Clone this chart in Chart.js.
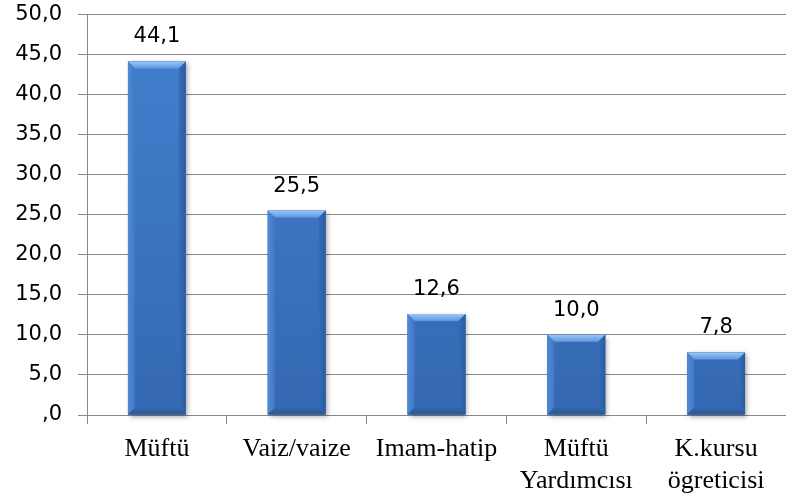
<!DOCTYPE html>
<html>
<head>
<meta charset="utf-8">
<script src="https://cdn.jsdelivr.net/npm/chart.js@4/dist/chart.umd.min.js"></script>
<style>
html,body{margin:0;padding:0;background:#fff;}
#wrap{width:786px;height:497px;position:relative;overflow:hidden;}
#c{position:absolute;left:0;top:-4px;}
</style>
</head>
<body>
<div id="wrap"><canvas id="c" width="786" height="501"></canvas></div>
<script>
const categories = [["Müftü"], ["Vaiz/vaize"], ["Imam-hatip"], ["Müftü", "Yardımcısı"], ["K.kursu", "ögreticisi"]];
const values = [44.1, 25.5, 12.6, 10.0, 7.8];
const yMin = 0, yMax = 50, yStep = 5;

function fmt(v){ return v === 0 ? ",0" : v.toFixed(1).replace(".", ","); }

const bevelPlugin = {
  id: 'bevel',
  afterDatasetsDraw(chart){
    const ctx = chart.ctx;
    const meta = chart.getDatasetMeta(0);
    meta.data.forEach((el, i) => {
      const p = el.getProps(['x','y','base','width'], true);
      const l = p.x - p.width/2, r = p.x + p.width/2, t = p.y, b = p.base;
      const bv = 7;
      ctx.save();
      ctx.beginPath();
      ctx.moveTo(l, t); ctx.lineTo(r, t); ctx.lineTo(r-bv, t+bv); ctx.lineTo(l+bv, t+bv); ctx.closePath();
      let g = ctx.createLinearGradient(0, t, 0, t+bv);
      g.addColorStop(0, '#9cc6f5'); g.addColorStop(1, '#5f97de');
      ctx.fillStyle = g; ctx.fill();
      ctx.beginPath();
      ctx.moveTo(l, t); ctx.lineTo(l+bv, t+bv); ctx.lineTo(l+bv, b-bv); ctx.lineTo(l, b); ctx.closePath();
      g = ctx.createLinearGradient(l, 0, l+bv, 0);
      g.addColorStop(0, '#5189d2'); g.addColorStop(1, '#3f79c7');
      ctx.fillStyle = g; ctx.fill();
      ctx.beginPath();
      ctx.moveTo(r, t); ctx.lineTo(r-bv, t+bv); ctx.lineTo(r-bv, b-bv); ctx.lineTo(r, b); ctx.closePath();
      g = ctx.createLinearGradient(r-bv, 0, r, 0);
      g.addColorStop(0, '#356db9'); g.addColorStop(1, '#2a5ca1');
      ctx.fillStyle = g; ctx.fill();
      ctx.beginPath();
      ctx.moveTo(l, b); ctx.lineTo(r, b); ctx.lineTo(r-bv, b-bv); ctx.lineTo(l+bv, b-bv); ctx.closePath();
      g = ctx.createLinearGradient(0, b-bv, 0, b);
      g.addColorStop(0, '#3366ae'); g.addColorStop(1, '#2a5898');
      ctx.fillStyle = g; ctx.fill();
      ctx.restore();
      ctx.save();
      ctx.font = '21px "DejaVu Sans"';
      ctx.fillStyle = '#000';
      ctx.textAlign = 'center';
      ctx.textBaseline = 'alphabetic';
      ctx.fillText(fmt(values[i]), p.x, t - 19);
      ctx.restore();
    });
  }
};

const shadowPlugin = {
  id: 'shadowp',
  beforeDatasetsDraw(chart){
    const ctx = chart.ctx;
    const meta = chart.getDatasetMeta(0);
    ctx.save();
    meta.data.forEach(el => {
      const p = el.getProps(['x','y','base','width'], true);
      const l = p.x - p.width/2;
      ctx.shadowColor = 'rgba(0,0,0,0.35)';
      ctx.shadowBlur = 5;
      ctx.shadowOffsetX = 2;
      ctx.shadowOffsetY = 2;
      ctx.fillStyle = '#3a73c2';
      ctx.fillRect(l, p.y, p.width, p.base - p.y);
    });
    ctx.restore();
  }
};

new Chart(document.getElementById('c'), {
  type: 'bar',
  data: {
    labels: categories,
    datasets: [{
      data: values,
      backgroundColor: (c) => {
        const ch = c.chart, a = ch.chartArea;
        if (!a) return '#3a75c4';
        const g = ch.ctx.createLinearGradient(0, a.top, 0, a.bottom);
        g.addColorStop(0, '#4281d0');
        g.addColorStop(1, '#3568b2');
        return g;
      },
      borderWidth: 0,
      categoryPercentage: 1,
      barPercentage: 0.414
    }]
  },
  plugins: [shadowPlugin, bevelPlugin],
  options: {
    responsive: false,
    animation: false,
    devicePixelRatio: 1,
    layout: { padding: { top: 8, right: 0, left: 0, bottom: 0 } },
    plugins: { legend: { display: false }, tooltip: { enabled: false } },
    scales: {
      x: {
        grid: { drawOnChartArea: false, drawTicks: true, tickLength: 9, color: '#888888', lineWidth: 1 },
        border: { color: '#888888', width: 1 },
        ticks: { color: '#000', font: { family: '"Liberation Serif"', size: 26, lineHeight: 1.2 }, padding: 10, maxRotation: 0, autoSkip: false },
        afterFit(s){ s.height = 82; }
      },
      y: {
        min: yMin, max: yMax,
        grid: { color: '#888888', lineWidth: 1, tickLength: 9, drawTicks: true },
        border: { color: '#888888', width: 1 },
        ticks: { stepSize: yStep, color: '#000', font: { family: '"DejaVu Sans"', size: 21, lineHeight: 0.2 }, padding: 16, callback: (v) => fmt(v) },
        afterFit(s){ s.width = 87; }
      }
    }
  }
});
</script>
</body>
</html>
